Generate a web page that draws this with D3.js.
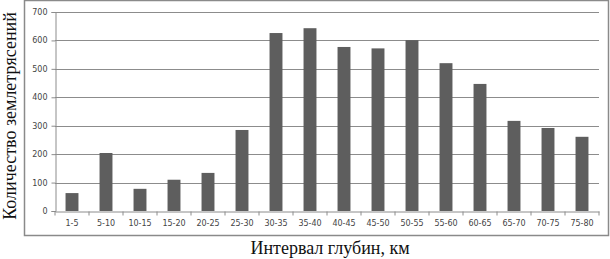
<!DOCTYPE html>
<html>
<head>
<meta charset="utf-8">
<title>Chart</title>
<style>
  body { margin: 0; background: #fff; }
  svg text { font-family: "DejaVu Sans", sans-serif; }
</style>
</head>
<body>
<div id="chart"></div>
<script src="https://d3js.org/d3.v7.min.js"></script>
<script>
var categories = ["1-5", "5-10", "10-15", "15-20", "20-25", "25-30", "30-35", "35-40",
                  "40-45", "45-50", "50-55", "55-60", "60-65", "65-70", "70-75", "75-80"];
var counts = [63, 204, 78, 110, 134, 285, 626, 643, 577, 572, 601, 520, 447, 317, 292, 261];
var yTicks = [0, 100, 200, 300, 400, 500, 600, 700];
var yTitle = "Количество землетрясений";
var xTitle = "Интервал глубин, км";

var width = 610, height = 259;
var plotL = 55, plotR = 599, plotT = 12, plotB = 211;

var svg = d3.select("#chart").append("svg")
    .attr("width", width)
    .attr("height", height);

// outer frame
svg.append("rect")
    .attr("x", 24.5).attr("y", 0.5)
    .attr("width", 584).attr("height", 235)
    .attr("fill", "#fff")
    .attr("stroke", "#8a8a8a")
    .attr("stroke-width", 1.5);

var x = d3.scaleBand().domain(categories).range([plotL, plotR]).paddingInner(0.62).paddingOuter(0.31);
var y = d3.scaleLinear().domain([0, 700]).range([plotB, plotT]);

// grid
svg.append("g")
    .selectAll("line")
    .data(yTicks.slice(1))
    .enter().append("line")
    .attr("x1", plotL).attr("x2", plotR)
    .attr("y1", function (d) { return Math.round(y(d)) + 0.5; })
    .attr("y2", function (d) { return Math.round(y(d)) + 0.5; })
    .attr("stroke", "#8c8c8c")
    .attr("stroke-width", 1);

// bars
svg.append("g")
    .selectAll("rect")
    .data(counts)
    .enter().append("rect")
    .attr("x", function (d, i) { return x(categories[i]); })
    .attr("y", function (d) { return y(d); })
    .attr("width", x.bandwidth())
    .attr("height", function (d) { return y(0) - y(d); })
    .attr("fill", "#5e5e5e");

// y axis
var yAxis = svg.append("g")
    .attr("transform", "translate(" + (plotL + 0.5) + ",0)")
    .call(d3.axisLeft(y).tickValues(yTicks).tickSize(4).tickPadding(4));
yAxis.select(".domain").attr("stroke", "#8c8c8c");
yAxis.selectAll(".tick line").attr("stroke", "#8c8c8c");
yAxis.selectAll("text").attr("fill", "#444").style("font-size", "8px");

// x axis
var step = x.step();
var xAxis = svg.append("g")
    .attr("transform", "translate(0," + (Math.round(plotB) + 0.5) + ")")
    .call(d3.axisBottom(x).tickSize(0).tickPadding(9));
xAxis.select(".domain").attr("stroke", "#8c8c8c");
xAxis.selectAll("text").attr("fill", "#444").style("font-size", "8px");
xAxis.selectAll("line.sep")
    .data(d3.range(categories.length + 1))
    .enter().append("line")
    .attr("class", "sep")
    .attr("x1", function (i) { return plotL + i * step; })
    .attr("x2", function (i) { return plotL + i * step; })
    .attr("y1", 0).attr("y2", 4)
    .attr("stroke", "#8c8c8c");

// titles
svg.append("text")
    .attr("transform", "translate(16,116) rotate(-90)")
    .attr("text-anchor", "middle")
    .style("font-family", "'Liberation Serif', serif")
    .style("font-size", "18px")
    .attr("fill", "#111")
    .text(yTitle);

svg.append("text")
    .attr("x", 330).attr("y", 254)
    .attr("text-anchor", "middle")
    .style("font-family", "'Liberation Serif', serif")
    .style("font-size", "18px")
    .attr("fill", "#111")
    .text(xTitle);
</script>
</body>
</html>
